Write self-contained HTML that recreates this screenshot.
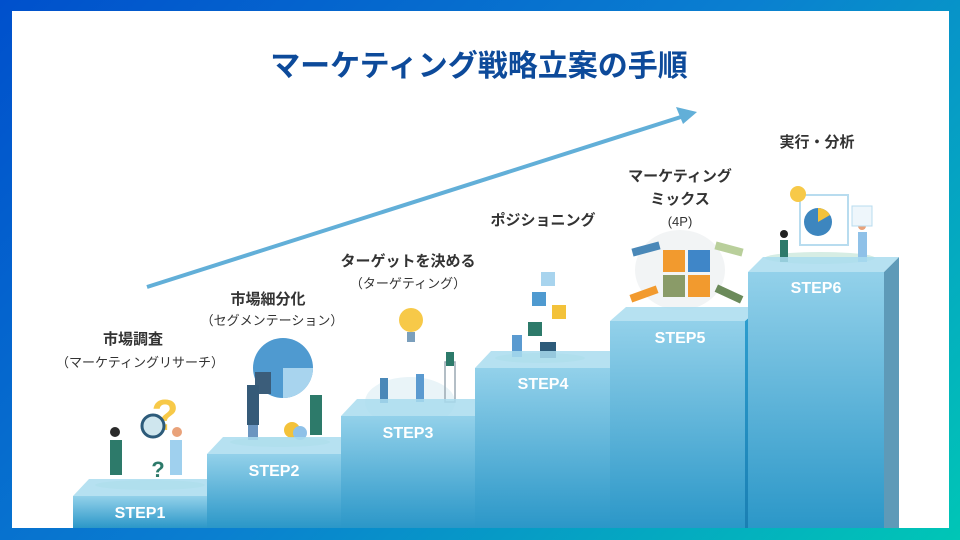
<!DOCTYPE html>
<html><head><meta charset="utf-8"><style>
html,body{margin:0;padding:0}
body{width:960px;height:540px;overflow:hidden;background:linear-gradient(135deg,#0050cc 0%,#0a7fd0 50%,#00c6b6 100%);position:relative;font-family:"Liberation Sans","Noto Sans CJK JP",sans-serif}
#in{position:absolute;left:12px;top:11px;width:937px;height:517px;background:#fff}
svg{position:absolute;left:0;top:0}
</style></head><body>
<div id="in"></div>
<svg width="960" height="540" viewBox="0 0 960 540">
<defs>
<linearGradient id="fr" x1="0" y1="0" x2="0" y2="1"><stop offset="0" stop-color="#93d1ea"/><stop offset="1" stop-color="#2b97c8"/></linearGradient>
<linearGradient id="sd" x1="0" y1="0" x2="0" y2="1"><stop offset="0" stop-color="#2e9fd0"/><stop offset="1" stop-color="#1a7fb3"/></linearGradient>
</defs>
<text x="479" y="76" text-anchor="middle" font-size="30" font-weight="bold" fill="#0d4a9a" font-family="Liberation Sans,Noto Sans CJK JP,sans-serif">マーケティング戦略立案の手順</text>
<line x1="147" y1="287" x2="684" y2="116" stroke="#62afd8" stroke-width="4"/>
<polygon points="697,112 676,107 683,124" fill="#62afd8"/>
<g font-family="Liberation Sans,Noto Sans CJK JP,sans-serif" fill="#333" text-anchor="middle">
<text x="133" y="344" font-size="15" font-weight="bold">市場調査</text>
<text x="140" y="367" font-size="13">（マーケティングリサーチ）</text>
<text x="268" y="304" font-size="15" font-weight="bold">市場細分化</text>
<text x="272" y="325" font-size="13">（セグメンテーション）</text>
<text x="408" y="266" font-size="15" font-weight="bold">ターゲットを決める</text>
<text x="408" y="288" font-size="13">（ターゲティング）</text>
<text x="543" y="225" font-size="15" font-weight="bold">ポジショニング</text>
<text x="680" y="181" font-size="15" font-weight="bold">マーケティング</text>
<text x="680" y="204" font-size="15" font-weight="bold">ミックス</text>
<text x="680" y="226" font-size="13">(4P)</text>
<text x="817" y="147" font-size="15" font-weight="bold">実行・分析</text>
</g>
<!-- illustrations (simplified) -->
<g>
<ellipse cx="150" cy="485" rx="55" ry="5" fill="#d6ede4"/>
<text x="165" y="430" font-size="44" font-weight="bold" fill="#f7c948" text-anchor="middle">?</text>
<circle cx="153" cy="426" r="11" fill="#cfe6ee" stroke="#2d5b7a" stroke-width="3"/>
<rect x="110" y="440" width="12" height="35" fill="#2d7a6a"/><circle cx="115" cy="432" r="5" fill="#2a2a2a"/>
<rect x="170" y="440" width="12" height="35" fill="#9fd0ee"/><circle cx="177" cy="432" r="5" fill="#e9a27a"/>
<text x="158" y="477" font-size="22" font-weight="bold" fill="#2d7a6a" text-anchor="middle">?</text>
<ellipse cx="280" cy="442" rx="50" ry="5" fill="#d6ede4"/>
<circle cx="283" cy="368" r="30" fill="#4f9ad0"/>
<path d="M283 368 L313 368 A30 30 0 0 1 283 398Z" fill="#a8d4ee"/>
<rect x="255" y="372" width="16" height="22" fill="#3b5d7a"/>
<rect x="247" y="385" width="12" height="40" fill="#355a78"/><rect x="248" y="425" width="10" height="15" fill="#6b95c0"/>
<rect x="310" y="395" width="12" height="40" fill="#2d7a6a"/>
<circle cx="292" cy="430" r="8" fill="#f3c23a"/><circle cx="300" cy="433" r="7" fill="#8fc1e8"/>
<ellipse cx="410" cy="402" rx="45" ry="25" fill="#e9f4f8"/>
<circle cx="411" cy="320" r="12" fill="#f7c948"/><rect x="407" y="332" width="8" height="10" fill="#7b9fbc"/>
<rect x="380" y="378" width="8" height="25" fill="#4a88b8"/><rect x="416" y="374" width="8" height="28" fill="#5a9ad0"/>
<rect x="445" y="362" width="10" height="40" fill="none" stroke="#9aa9b3" stroke-width="1.5"/>
<rect x="446" y="352" width="8" height="14" fill="#2d7a6a"/>
<ellipse cx="540" cy="358" rx="45" ry="5" fill="#d6ede4"/>
<rect x="541" y="272" width="14" height="14" fill="#a8d4ee"/>
<rect x="532" y="292" width="14" height="14" fill="#4f9ad0"/><rect x="552" y="305" width="14" height="14" fill="#f3c23a"/>
<rect x="528" y="322" width="14" height="14" fill="#2d7a6a"/><rect x="540" y="342" width="16" height="16" fill="#2d5b7a"/>
<rect x="512" y="335" width="10" height="22" fill="#5a9ad0"/>
<ellipse cx="680" cy="270" rx="45" ry="40" fill="#f2f4f5"/>
<rect x="663" y="250" width="22" height="22" fill="#f29a2e"/><rect x="688" y="250" width="22" height="22" fill="#3f86c8"/>
<rect x="663" y="275" width="22" height="22" fill="#8a9b68"/><rect x="688" y="275" width="22" height="22" fill="#f29a2e"/>
<rect x="632" y="245" width="28" height="8" fill="#4a88b8" transform="rotate(-15 646 249)"/>
<rect x="715" y="245" width="28" height="8" fill="#b9cf9b" transform="rotate(15 729 249)"/>
<rect x="630" y="290" width="28" height="8" fill="#f29a2e" transform="rotate(-20 644 294)"/>
<rect x="715" y="290" width="28" height="8" fill="#6b8a5a" transform="rotate(25 729 294)"/>
<ellipse cx="820" cy="258" rx="55" ry="6" fill="#d6ede4"/>
<rect x="800" y="195" width="48" height="50" fill="#fff" stroke="#b8dcef" stroke-width="2"/>
<circle cx="818" cy="222" r="14" fill="#3d86bf"/><path d="M818 222 L818 208 A14 14 0 0 1 830 215Z" fill="#f3c23a"/>
<circle cx="798" cy="194" r="8" fill="#f7c948"/>
<rect x="780" y="240" width="8" height="22" fill="#2d7a6a"/><circle cx="784" cy="234" r="4" fill="#222"/>
<rect x="858" y="232" width="9" height="30" fill="#8fc1e8"/><circle cx="862" cy="226" r="4" fill="#e9a27a"/>
<rect x="852" y="206" width="20" height="20" fill="#eef6fb" stroke="#b8dcef"/>
</g>
<!-- steps -->
<g>
<!-- step1 -->
<polygon points="207,496 223,479 223,528 207,528" fill="url(#sd)"/>
<polygon points="73,496 89,479 223,479 207,496" fill="#a9dcef" opacity="0.85"/>
<rect x="73" y="496" width="134" height="32" fill="url(#fr)"/>
<!-- step2 -->
<polygon points="341,454 357,437 357,528 341,528" fill="url(#sd)"/>
<polygon points="207,454 223,437 357,437 341,454" fill="#a9dcef" opacity="0.85"/>
<rect x="207" y="454" width="134" height="74" fill="url(#fr)"/>
<!-- step3 -->
<polygon points="475,416 491,399 491,528 475,528" fill="url(#sd)"/>
<polygon points="341,416 357,399 491,399 475,416" fill="#a9dcef" opacity="0.85"/>
<rect x="341" y="416" width="134" height="112" fill="url(#fr)"/>
<!-- step4 -->
<polygon points="610,368 626,351 626,528 610,528" fill="url(#sd)"/>
<polygon points="475,368 491,351 626,351 610,368" fill="#a9dcef" opacity="0.85"/>
<rect x="475" y="368" width="135" height="160" fill="url(#fr)"/>
<!-- step5 -->
<polygon points="745,321 761,307 761,528 745,528" fill="url(#sd)"/>
<polygon points="610,321 626,307 761,307 745,321" fill="#a9dcef" opacity="0.85"/>
<rect x="610" y="321" width="135" height="207" fill="url(#fr)"/>
<!-- step6 -->
<polygon points="884,272 899,257 899,528 884,528" fill="#5e9ab8"/>
<polygon points="748,272 763,257 899,257 884,272" fill="#a9dcef" opacity="0.85"/>
<rect x="748" y="272" width="136" height="256" fill="url(#fr)"/>
</g>
<g font-family="Liberation Sans,sans-serif" font-weight="bold" font-size="16" fill="#fff" text-anchor="middle">
<text x="140" y="518">STEP1</text>
<text x="274" y="476">STEP2</text>
<text x="408" y="438">STEP3</text>
<text x="543" y="389">STEP4</text>
<text x="680" y="343">STEP5</text>
<text x="816" y="293">STEP6</text>
</g>
</svg>
</body></html>
